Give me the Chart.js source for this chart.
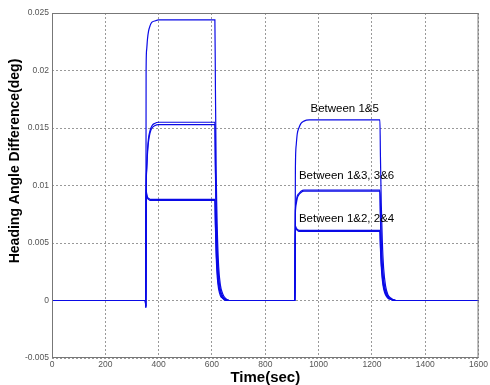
<!DOCTYPE html>
<html>
<head>
<meta charset="utf-8">
<script src="https://cdn.jsdelivr.net/npm/chart.js@4.4.0/dist/chart.umd.min.js"></script>
<style>
  html, body { margin: 0; padding: 0; background: #fff; }
  #wrap { width: 490px; height: 385px; }
</style>
</head>
<body>
<div id="wrap"><canvas id="heading-chart"></canvas></div>
<script>
// sample times (sec), shared by all series
const time = [0, 350, 352, 353, 355, 358, 362, 368, 375, 385, 400, 430,
  611, 613, 616, 620, 625, 632, 640, 650, 665, 700,
  910, 911, 913, 916, 920, 926, 934, 945, 965, 1000,
  1230, 1232, 1235, 1239, 1244, 1251, 1260, 1272, 1290, 1600];

// heading angle difference (deg)
const diff15 = [0, 0, -0.0006, 0.0200, 0.0218, 0.0227, 0.0234, 0.0239, 0.0242, 0.0243, 0.0244, 0.0244,
  0.0244, 0.0185, 0.0110, 0.0062, 0.0030, 0.0013, 0.0006, 0.0002, 0, 0,
  0, 0, 0.0115, 0.0135, 0.0145, 0.0150, 0.0154, 0.0156, 0.0157, 0.0157,
  0.0157, 0.0125, 0.0085, 0.0052, 0.0028, 0.0013, 0.0005, 0.0002, 0, 0];
const diff13 = [0, 0, -0.0005, 0.0095, 0.0115, 0.0130, 0.0141, 0.0148, 0.0152, 0.0154, 0.0155, 0.0155,
  0.0155, 0.0118, 0.0075, 0.0042, 0.0021, 0.0009, 0.0004, 0.0001, 0, 0,
  0, 0, 0.0078, 0.0086, 0.0091, 0.0093, 0.0095, 0.0096, 0.0096, 0.0096,
  0.0096, 0.0076, 0.0052, 0.0032, 0.0018, 0.0009, 0.0004, 0.0001, 0, 0];
const diff36 = [0, 0, -0.0004, 0.0093, 0.0112, 0.0127, 0.0138, 0.0146, 0.0150, 0.0152, 0.0153, 0.0153,
  0.0153, 0.0112, 0.0068, 0.0036, 0.0017, 0.0007, 0.0003, 0.0001, 0, 0,
  0, 0, 0.0076, 0.0084, 0.0089, 0.0092, 0.0094, 0.0095, 0.0095, 0.0095,
  0.0095, 0.0072, 0.0047, 0.0028, 0.0015, 0.0007, 0.0003, 0.0001, 0, 0];
const diff12 = [0, 0, -0.0006, 0.0097, 0.0093, 0.0090, 0.0089, 0.0088, 0.0088, 0.0088, 0.0088, 0.0088,
  0.0088, 0.0068, 0.0043, 0.0025, 0.0013, 0.0006, 0.0002, 0.0001, 0, 0,
  0, 0, 0.0065, 0.0063, 0.0062, 0.0061, 0.0061, 0.0061, 0.0061, 0.0061,
  0.0061, 0.0048, 0.0033, 0.0021, 0.0012, 0.0006, 0.0003, 0.0001, 0, 0];
const diff24 = [0, 0, -0.0005, 0.0095, 0.0092, 0.0089, 0.0088, 0.0087, 0.0087, 0.0087, 0.0087, 0.0087,
  0.0087, 0.0064, 0.0038, 0.0020, 0.0010, 0.0004, 0.0002, 0, 0, 0,
  0, 0, 0.0064, 0.0062, 0.0061, 0.0060, 0.0060, 0.0060, 0.0060, 0.0060,
  0.0060, 0.0045, 0.0030, 0.0018, 0.0010, 0.0005, 0.0002, 0.0001, 0, 0];

const seriesNames = ['1&5', '1&3', '3&6', '1&2', '2&4'];
const seriesValues = [diff15, diff13, diff36, diff12, diff24];

// text annotations placed in data coordinates
const noteText = ['Between 1&5', 'Between 1&3, 3&6', 'Between 1&2, 2&4'];
const noteTime = [1098, 1105, 1105];
const noteValue = [0.0167, 0.0108, 0.0071];

const FONT = 'Arial, "Liberation Sans", sans-serif';

const notesAndBox = {
  id: 'notesAndBox',
  afterDatasetsDraw(chart) {
    const { ctx, chartArea, scales } = chart;
    ctx.save();
    ctx.font = '11.5px ' + FONT;
    ctx.fillStyle = '#000';
    ctx.textAlign = 'center';
    ctx.textBaseline = 'middle';
    noteText.forEach((t, i) => {
      ctx.fillText(t, scales.x.getPixelForValue(noteTime[i]), scales.y.getPixelForValue(noteValue[i]));
    });
    ctx.strokeStyle = '#777';
    ctx.lineWidth = 1;
    ctx.strokeRect(chartArea.left + 0.5, chartArea.top + 0.5,
      chartArea.right - chartArea.left - 1, chartArea.bottom - chartArea.top - 1);

    // y axis title sits a bit above the middle in the original
    ctx.translate(15.5, 161);
    ctx.rotate(-Math.PI / 2);
    ctx.font = 'bold 14px ' + FONT;
    ctx.fillText('Heading Angle Difference(deg)', 0, 0);
    ctx.restore();
  }
};

const ctx = document.getElementById('heading-chart').getContext('2d');
new Chart(ctx, {
  type: 'line',
  data: {
    datasets: seriesValues.map((vals, i) => ({
      label: seriesNames[i],
      data: vals.map((v, j) => ({ x: time[j], y: v })),
      borderColor: '#0a0ae6',
      borderWidth: 1.2,
      pointRadius: 0,
      fill: false,
      cubicInterpolationMode: 'monotone'
    }))
  },
  options: {
    responsive: true,
    maintainAspectRatio: false,
    animation: false,
    layout: { padding: { top: 13, right: 6, left: 0, bottom: 0 } },
    plugins: {
      legend: { display: false },
      tooltip: { enabled: false }
    },
    scales: {
      x: {
        type: 'linear',
        min: 0,
        max: 1600,
        ticks: {
          stepSize: 200,
          color: '#555',
          padding: 2,
          maxRotation: 0,
          font: { family: FONT, size: 8.5 },
          callback: (v) => String(v)
        },
        grid: { color: '#999', drawTicks: false },
        border: { display: false, dash: [2, 2] },
        title: {
          display: true,
          text: 'Time(sec)',
          color: '#000',
          padding: { top: 0, bottom: 0 },
          font: { family: FONT, size: 15, weight: 'bold', lineHeight: 1 }
        },
        afterFit: (scale) => { scale.height = 27; }
      },
      y: {
        min: -0.005,
        max: 0.025,
        ticks: {
          stepSize: 0.005,
          color: '#555',
          padding: 3,
          font: { family: FONT, size: 8.5 },
          callback: (v) => String(parseFloat(v.toFixed(3)))
        },
        grid: { color: '#999', drawTicks: false },
        border: { display: false, dash: [2, 2] },
        afterFit: (scale) => { scale.width = 52; }
      }
    }
  },
  plugins: [notesAndBox]
});
</script>
</body>
</html>
